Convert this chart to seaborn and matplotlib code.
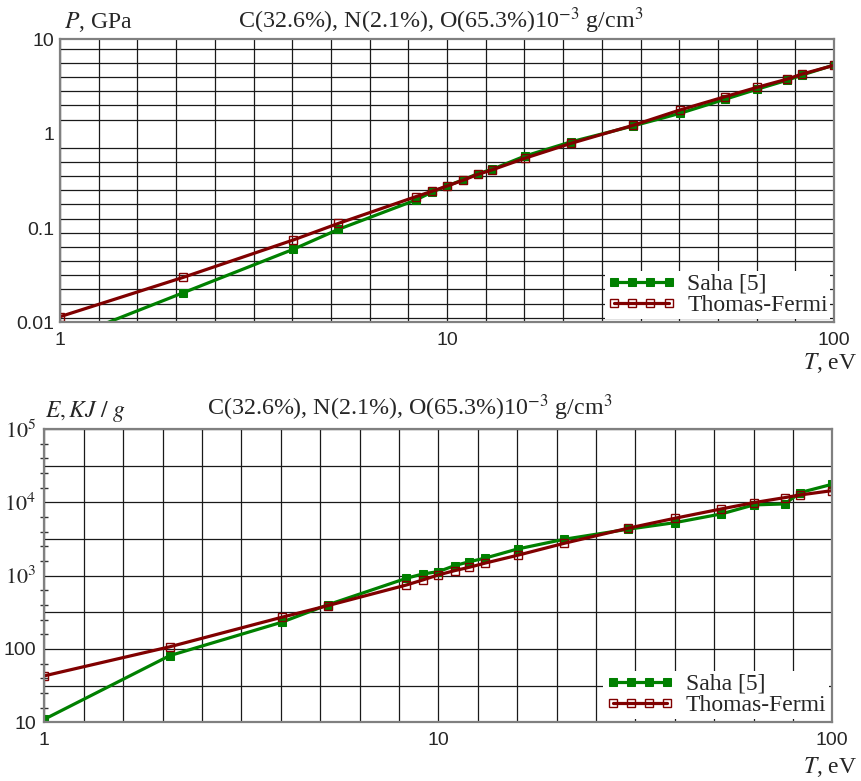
import numpy as np
import matplotlib
matplotlib.use('Agg')
import matplotlib.pyplot as plt
from matplotlib.ticker import FixedLocator, FixedFormatter, NullFormatter
import seaborn as sns

# temperature points, eV
T = [1, 2.08, 4.0, 5.24, 8.3, 9.13, 10.0, 11.0, 12.0, 13.1, 15.9, 20.9,
     30.3, 39.9, 52.3, 63.2, 75.8, 82.8, 100]

# pressure, GPa
P_saha = [0.0063, 0.0206, 0.0594, 0.0969, 0.198, 0.240, 0.279, 0.325, 0.376, 0.421,
          0.58, 0.82, 1.21, 1.64, 2.32, 2.96, 3.70, 4.20, 5.35]
P_tf = [0.0115, 0.030, 0.0746, 0.112, 0.215, 0.245, 0.279, 0.321, 0.370, 0.415,
        0.55, 0.79, 1.23, 1.78, 2.47, 3.10, 3.80, 4.30, 5.31]

# energy, KJ/g
E_saha = [11, 81, 231, 400, 921, 1054, 1135, 1369, 1552, 1726, 2312, 3139,
          4296, 5287, 6950, 9220, 9510, 13560, 17660]
E_tf = [43, 107, 270, 390, 746, 873, 1023, 1170, 1303, 1476, 1897, 2767,
        4436, 6070, 8130, 9900, 11600, 12600, 14450]

title = 'C(32.6%), N(2.1%), O(65.3%)10$^{-3}$ g/cm$^3$'
GREEN = '#008000'
RED = '#800000'
SERIF = ['Liberation Serif', 'DejaVu Serif']

sns.set_style('white')
plt.rcParams['font.family'] = ['Liberation Sans', 'DejaVu Sans']
plt.rcParams['mathtext.fontset'] = 'stix'

fig = plt.figure(figsize=(8.61, 7.81), dpi=100)
ax1 = fig.add_axes([60 / 861, 1 - 322.4 / 781, 774 / 861, 283 / 781])
ax2 = fig.add_axes([44.3 / 861, 1 - 722.3 / 781, 788 / 861, 293.3 / 781])


def draw_panel(ax, saha, tf):
    ax.set_xscale('log')
    ax.set_yscale('log')
    sns.lineplot(x=T, y=saha, ax=ax, color=GREEN, lw=2.3, marker='s', markersize=5.5,
                 markerfacecolor=GREEN, markeredgecolor=GREEN, estimator=None,
                 label='Saha [5]')
    sns.lineplot(x=T, y=tf, ax=ax, color=RED, lw=2.3, marker='s', markersize=6,
                 markerfacecolor='none', markeredgecolor=RED, markeredgewidth=1.0,
                 estimator=None, label='Thomas-Fermi')
    ax.set_xlim(1, 100)
    ax.xaxis.set_major_locator(FixedLocator([1, 10, 100]))
    ax.xaxis.set_major_formatter(FixedFormatter(['1', '10', '100']))
    ax.xaxis.set_minor_locator(FixedLocator(10 ** (np.arange(1, 20) / 10)))
    ax.xaxis.set_minor_formatter(NullFormatter())
    ax.grid(True, which='both', axis='x', color='#1a1a1a', lw=0.9)
    ax.set_axisbelow(True)
    for s in ax.spines.values():
        s.set_color('#808080')
        s.set_linewidth(1.6)
    ax.tick_params(which='both', length=0, labelsize=14)
    ax.tick_params(axis='x', pad=7)
    ax.tick_params(axis='y', pad=4)
    ax.set_xlabel('')
    ax.set_ylabel('')
    ax.legend(loc='lower right', frameon=True, facecolor='white', edgecolor='none',
              framealpha=1, fancybox=False, borderaxespad=0.15, borderpad=0.1,
              handlelength=2.9, numpoints=4, handletextpad=0.5, labelspacing=0.0,
              prop={'family': SERIF, 'size': 17})


# top panel: pressure
draw_panel(ax1, P_saha, P_tf)
ax1.set_ylim(0.01, 10)
ax1.yaxis.set_major_locator(FixedLocator([0.01, 0.1, 1, 10]))
ax1.yaxis.set_major_formatter(FixedFormatter(['0.01', '0.1', '1', '10']))
ax1.yaxis.set_minor_locator(FixedLocator(10 ** (0.15 * np.arange(-13, 7))))
ax1.yaxis.set_minor_formatter(NullFormatter())
ax1.grid(True, which='minor', axis='y', color='#1a1a1a', lw=0.9)

# bottom panel: energy
draw_panel(ax2, E_saha, E_tf)
ax2.set_ylim(10, 1e5)
ax2.yaxis.set_major_locator(FixedLocator(10 ** (np.arange(2, 11) / 2)))
ax2.yaxis.set_major_formatter(FixedFormatter(
    ['10', '', '100', '', '$10^3$', '', '$10^4$', '', '$10^5$']))
ax2.yaxis.set_minor_locator(FixedLocator(10 ** (1 + 0.2 * np.arange(1, 20))))
ax2.yaxis.set_minor_formatter(NullFormatter())
ax2.grid(True, which='major', axis='y', color='#1a1a1a', lw=0.9)
ax2.tick_params(axis='y', which='minor', left=True, right=False, length=6,
                width=1, direction='inout', color='#333333')
ax2.tick_params(axis='y', pad=6)
for lbl in ax2.get_yticklabels():
    if lbl.get_text().startswith('$'):
        lbl.set_fontsize(16)

# labels and titles
fig.text(64 / 861, 1 - 28 / 781, '$P$, GPa', family=SERIF, fontsize=17, va='baseline')
fig.text(238 / 861, 1 - 28 / 781, title, family=SERIF, fontsize=17.3, va='baseline')
fig.text(857 / 861, 1 - 369 / 781, '$T$, eV', family=SERIF, fontsize=17,
         va='baseline', ha='right')

fig.text(45 / 861, 1 - 417 / 781, '$E,KJ\\ /\\ g$', family=SERIF, fontsize=17,
         va='baseline')
fig.text(207 / 861, 1 - 415 / 781, title, family=SERIF, fontsize=17.3, va='baseline')
fig.text(857 / 861, 1 - 773 / 781, '$T$, eV', family=SERIF, fontsize=17,
         va='baseline', ha='right')

fig.savefig('out.png', dpi=100)
